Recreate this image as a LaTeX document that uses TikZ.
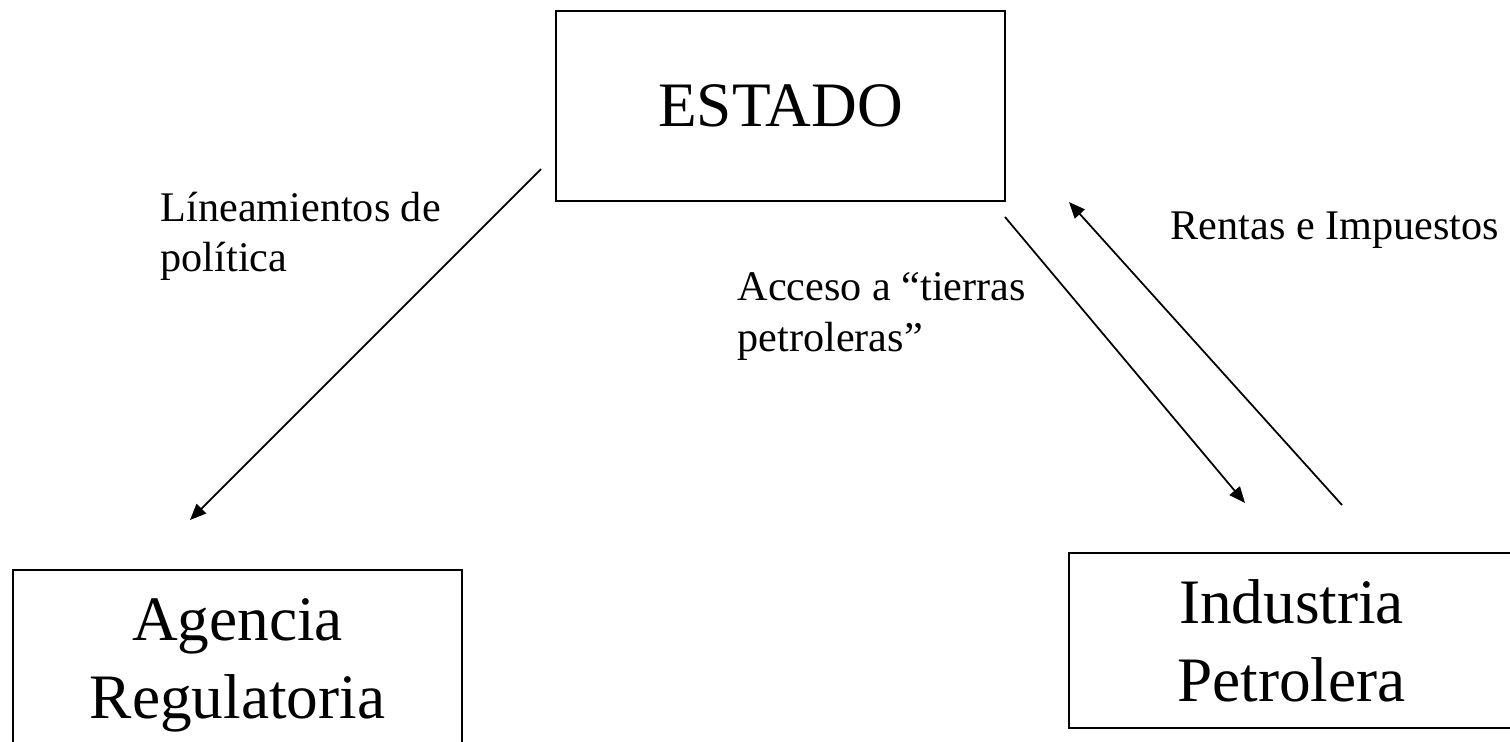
\documentclass[tikz,border=0pt]{standalone}
\usepackage{fontspec}
\setmainfont{Liberation Serif}
\usetikzlibrary{arrows.meta}

\begin{document}
\begin{tikzpicture}[x=0.01cm,y=-0.01cm,
	caja/.style={draw,line width=0.7pt,minimum width=4.49cm,minimum height=1.9cm,
		inner sep=0pt,align=center,font=\fontsize{18}{22.2}\selectfont},
	etiqueta/.style={anchor=north west,inner sep=0pt,align=left,
		font=\fontsize{12}{14.3}\selectfont},
	flecha/.style={line width=0.5pt,-{Triangle[length=4.6pt,width=3.8pt]}}]
			\useasboundingbox (0,0) rectangle (1510,741);
			\clip (0,0) rectangle (1510,741);
			% cajas
			\node [caja] (estado) at (780.5,106) {ESTADO};
			\node [caja] (agencia) at (237.5,665) {Agencia\\Regulatoria};
			\node [caja,minimum width=4.45cm,minimum height=1.75cm] (industria) at (1291.5,640.5) {Industria\\Petrolera};
			% extremos de las flechas
			\coordinate (lin1) at (541,169);
			\coordinate (lin2) at (190,520);
			\coordinate (acc1) at (1005,217);
			\coordinate (acc2) at (1245,503);
			\coordinate (ren1) at (1342,505);
			\coordinate (ren2) at (1069,202);
			\draw [flecha] (lin1) -- (lin2);
			\draw [flecha] (acc1) -- (acc2);
			\draw [flecha] (ren1) -- (ren2);
			% etiquetas
			\node [etiqueta] (lineamientos) at (160,191) {Líneamientos de\\política};
			\node [etiqueta] (acceso) at (737,272) {Acceso a “tierras\\petroleras”};
			\node [etiqueta] (rentas) at (1170,211) {Rentas e Impuestos};
\end{tikzpicture}
\end{document}
